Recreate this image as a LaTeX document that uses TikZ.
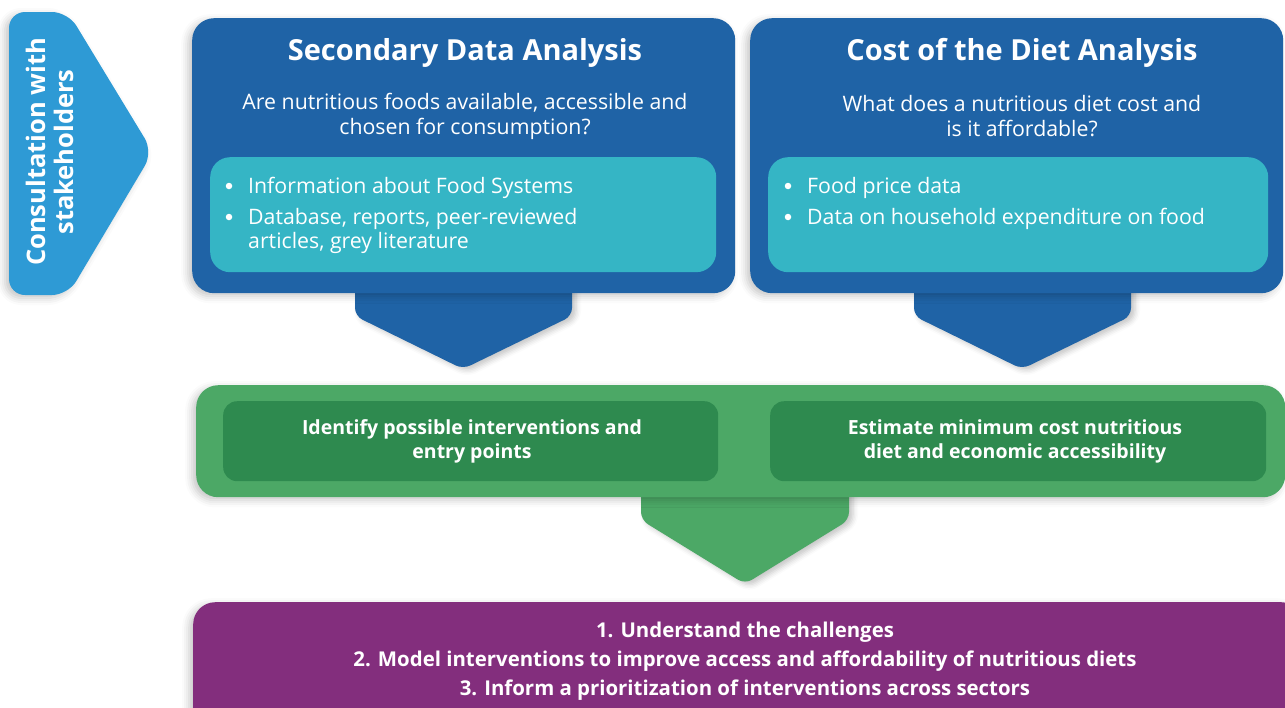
\documentclass[tikz,border=0pt]{standalone}
\usepackage{fontspec}
\setmainfont{Open Sans}
\usetikzlibrary{shadows.blur}
\definecolor{chev}{HTML}{2E9AD5}
\definecolor{dblue}{HTML}{1F63A6}
\definecolor{cyanbox}{HTML}{35B5C5}
\definecolor{lgreen}{HTML}{4CA866}
\definecolor{dgreen}{HTML}{2E8A4F}
\definecolor{purp}{HTML}{832E7D}
\tikzset{
  softshadow/.style={blur shadow={shadow xshift=-4pt, shadow yshift=-3pt, shadow blur radius=7pt, shadow opacity=22}},
  arrshadow/.style={blur shadow={shadow xshift=4pt, shadow yshift=-3pt, shadow blur radius=5pt, shadow opacity=22}},
  panel/.style={anchor=north west, inner sep=0pt, rounded corners=#1},
  ttl/.style={text=white, font=\bfseries\fontsize{29}{33}\selectfont},
  sub/.style={text=white, align=center, font=\fontsize{21.3}{25}\selectfont},
  itm/.style={text=white, anchor=base west, inner sep=0pt, font=\fontsize{21.3}{24}\selectfont},
  bul/.style={circle, fill=white, inner sep=0pt, minimum size=6.5pt},
  gtxt/.style={text=white, align=center, font=\bfseries\fontsize{19.5}{24}\selectfont},
  ptxt/.style={text=white, align=center, font=\bfseries\fontsize{20.4}{29}\selectfont},
}
\begin{document}
\begin{tikzpicture}[x=1pt,y=-1pt]
\useasboundingbox (0,0) rectangle (1285,707);
\clip (0,0) rectangle (1285,707);

% left chevron
\fill[chev, rounded corners=16pt, softshadow] (9,12) -- (68,12) -- (153,152) -- (68,295) -- (9,295) -- cycle;
\node[rotate=90, text=white, align=center, font=\bfseries\fontsize{25.5}{28}\selectfont] (consult) at (50,152) {Consultation with\\stakeholders};

% blue arrows
\fill[dblue, rounded corners=8pt, arrshadow] (355,280) -- (355,316) -- (463,369) -- (572,316) -- (572,280) -- cycle;
\fill[dblue, rounded corners=8pt, arrshadow] (914,280) -- (914,316) -- (1022,369) -- (1131,316) -- (1131,280) -- cycle;

% blue panels
\node[panel=22pt, fill=dblue, minimum width=543pt, minimum height=275pt, softshadow] (sda) at (192,18) {};
\node[panel=22pt, fill=dblue, minimum width=533pt, minimum height=275pt, softshadow] (cod) at (750,18) {};

\node[ttl] (sdat) at (465,53) {Secondary Data Analysis};
\node[ttl] (codt) at (1022,53) {Cost of the Diet Analysis};
\node[sub] (sdaq) at (465,116) {Are nutritious foods available, accessible and\\chosen for consumption?};
\node[sub] (codq) at (1022,116) {What does a nutritious diet cost and\\is it affordable?};

% cyan boxes
\node[panel=20pt, fill=cyanbox, minimum width=506pt, minimum height=115pt] (sdal) at (210,157) {};
\node[panel=20pt, fill=cyanbox, minimum width=500pt, minimum height=115pt] (codl) at (768,157) {};

\node[bul] (b1) at (229,186) {};
\node[itm] (i1) at (248,193) {Information about Food Systems};
\node[bul] (b2) at (229,217) {};
\node[itm] (i2) at (248,224) {Database, reports, peer-reviewed};
\node[itm] (i2b) at (248,248) {articles, grey literature};

\node[bul] (b3) at (788,186) {};
\node[itm] (i3) at (807,193) {Food price data};
\node[bul] (b4) at (788,217) {};
\node[itm] (i4) at (807,224) {Data on household expenditure on food};

% green arrow
\fill[lgreen, rounded corners=8pt, arrshadow] (641,485) -- (641,520) -- (745,584) -- (849,520) -- (849,485) -- cycle;

% green band
\node[panel=22pt, fill=lgreen, minimum width=1089pt, minimum height=112pt, softshadow] (band) at (196,385) {};
\node[panel=14pt, fill=dgreen, minimum width=495pt, minimum height=80pt] (g1) at (223,401) {};
\node[panel=14pt, fill=dgreen, minimum width=496pt, minimum height=80pt] (g2) at (770,401) {};
\node[gtxt] (g1t) at (472,441) {Identify possible interventions and\\entry points};
\node[gtxt] (g2t) at (1015,441) {Estimate minimum cost nutritious\\diet and economic accessibility};

% purple box
\node[panel=22pt, fill=purp, minimum width=1110pt, minimum height=140pt, softshadow] (res) at (193,602) {};
\node[ptxt] (rest) at (745,661) {1. Understand the challenges\\2. Model interventions to improve access and affordability of nutritious diets\\3. Inform a prioritization of interventions across sectors};
\end{tikzpicture}
\end{document}
